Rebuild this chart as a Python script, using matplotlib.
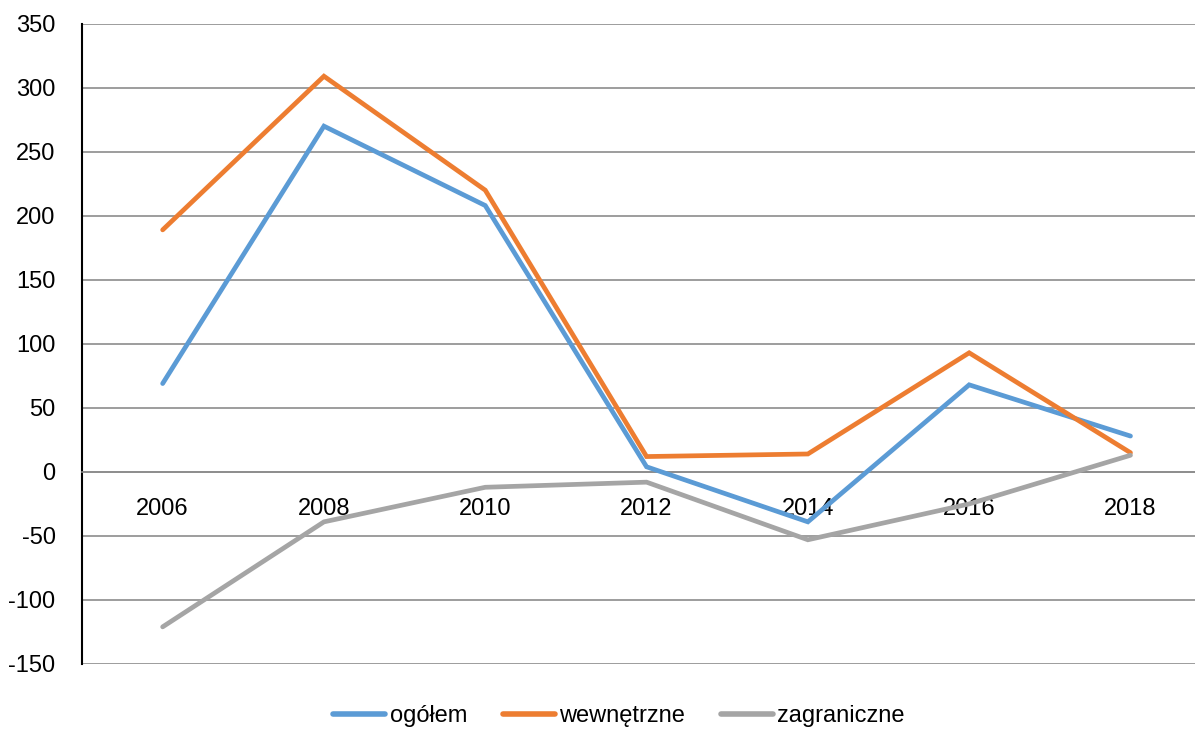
import matplotlib
matplotlib.use("Agg")
import matplotlib.pyplot as plt

years = ["2006", "2008", "2010", "2012", "2014", "2016", "2018"]
ogolem = [69, 270, 208, 4, -39, 68, 28]
wewnetrzne = [189, 309, 220, 12, 14, 93, 15]
zagraniczne = [-121, -39, -12, -8, -53, -25, 13]
series_names = ["ogółem", "wewnętrzne", "zagraniczne"]
colors = ["#5B9BD5", "#ED7D31", "#A5A5A5"]
yticks = [-150, -100, -50, 0, 50, 100, 150, 200, 250, 300, 350]

plt.rcParams['font.family'] = ['Liberation Sans', 'DejaVu Sans']

fig = plt.figure(figsize=(11.95, 7.29), dpi=100)
ax = fig.add_axes([82/1195, 1-664/729, 1-82/1195, (664-23.7)/729])

x = list(range(len(years)))
for vals, name, c in zip([ogolem, wewnetrzne, zagraniczne], series_names, colors):
    ax.plot(x, vals, color=c, lw=3.4, solid_capstyle='round', solid_joinstyle='miter', label=name, zorder=3)

ax.set_ylim(-150, 350)
ax.set_xlim(-0.5, 6.40)
ax.set_yticks(yticks)
ax.set_yticklabels([str(v) for v in yticks])
ax.set_xticks(x)
ax.set_xticklabels(years)

ax.grid(axis='y', color='#8C8C8C', lw=1.2, zorder=1)
ax.grid(axis='x', visible=False)
for s in ['top', 'right']:
    ax.spines[s].set_visible(False)
ax.spines['left'].set_color('black')
ax.spines['left'].set_linewidth(1.5)
ax.spines['bottom'].set_position(('data', 0))
ax.spines['bottom'].set_color('#8C8C8C')
ax.spines['bottom'].set_linewidth(1.2)

ax.tick_params(axis='y', length=0, pad=19, labelsize=17)
ax.tick_params(axis='x', length=0, pad=19, labelsize=17)

leg = fig.legend(loc='center', bbox_to_anchor=(619/1195, 1-716/729), ncol=3, frameon=False,
                 fontsize=17, handlelength=2.2, handletextpad=0.2, columnspacing=1.5)
for h in leg.get_lines():
    h.set_linewidth(4)

fig.savefig("out.png", dpi=100)
